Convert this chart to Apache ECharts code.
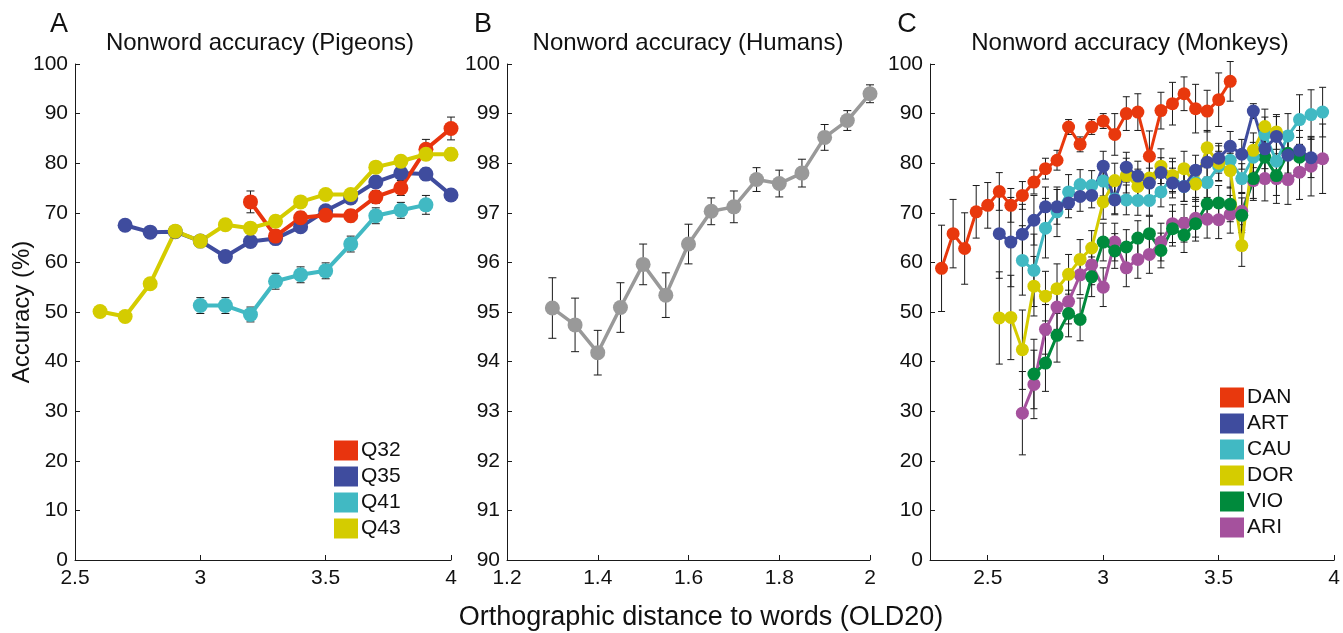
<!DOCTYPE html>
<html><head><meta charset="utf-8">
<script src="https://cdn.jsdelivr.net/npm/echarts@6/dist/echarts.min.js"></script>
<style>html,body{margin:0;padding:0;background:#fff}#c{width:1343px;height:633px}</style>
</head><body><div id="c"></div>
<script>
// ---------- Panel A: pigeons ----------
const Q32_x = [3.2,3.3,3.4,3.5,3.6,3.7,3.8,3.9,4.0];
const Q32_y = [72.2,65.3,69.0,69.5,69.4,73.2,75.0,82.8,87.0];
const Q32_e = [2.2,1.2,1.2,1.2,1.2,1.3,1.5,2.0,2.3];
const Q35_x = [2.7,2.8,2.9,3.0,3.1,3.2,3.3,3.4,3.5,3.6,3.7,3.8,3.9,4.0];
const Q35_y = [67.5,66.1,66.2,64.3,61.2,64.2,64.8,67.2,70.4,73.0,76.2,78.0,77.8,73.6];
const Q35_e = [0.8,0.6,0.6,0.7,0.8,0.8,0.8,0.9,1.0,1.0,1.1,1.1,1.2,1.0];
const Q41_x = [3.0,3.1,3.2,3.3,3.4,3.5,3.6,3.7,3.8,3.9];
const Q41_y = [51.3,51.3,49.5,56.2,57.5,58.3,63.7,69.4,70.5,71.6];
const Q41_e = [1.6,1.6,1.5,1.6,1.6,1.6,1.6,1.6,1.6,1.9];
const Q43_x = [2.6,2.7,2.8,2.9,3.0,3.1,3.2,3.3,3.4,3.5,3.6,3.7,3.8,3.9,4.0];
const Q43_y = [50.1,49.1,55.7,66.3,64.3,67.6,66.9,68.3,72.2,73.7,73.7,79.2,80.4,81.8,81.8];
const Q43_e = [0.6,0.7,0.7,0.8,0.9,0.9,1.0,1.0,1.0,1.0,1.0,1.1,1.1,1.1,1.2];

// ---------- Panel B: humans ----------
const HUM_x = [1.3,1.35,1.4,1.45,1.5,1.55,1.6,1.65,1.7,1.75,1.8,1.85,1.9,1.95,2.0];
const HUM_y = [95.08,94.74,94.18,95.09,95.96,95.34,96.37,97.03,97.12,97.67,97.59,97.80,98.52,98.86,99.40];
const HUM_e = [0.61,0.54,0.45,0.50,0.41,0.45,0.40,0.27,0.32,0.24,0.27,0.28,0.26,0.20,0.18];

// ---------- Panel C: monkeys ----------
const DAN_x = [2.3,2.35,2.4,2.45,2.5,2.55,2.6,2.65,2.7,2.75,2.8,2.85,2.9,2.95,3.0,3.05,3.1,3.15,3.2,3.25,3.3,3.35,3.4,3.45,3.5,3.55];
const DAN_y = [58.8,65.8,62.8,70.2,71.5,74.3,71.5,73.5,76.2,78.9,80.6,87.3,83.8,87.3,88.5,85.8,90.0,90.3,81.4,90.6,92.0,94.0,91.0,90.5,92.8,96.5];
const DAN_e = [8.7,6.9,7.2,5.3,4.6,3.8,3.4,2.8,2.4,2.1,2.0,1.5,1.5,1.5,1.5,4.2,3.4,3.7,5.1,3.7,4.3,3.4,4.9,4.2,5.4,4.0];
const ART_x = [2.55,2.6,2.65,2.7,2.75,2.8,2.85,2.9,2.95,3.0,3.05,3.1,3.15,3.2,3.25,3.3,3.35,3.4,3.45,3.5,3.55,3.6,3.65,3.7,3.75,3.8,3.85,3.9];
const ART_y = [65.8,64.1,65.7,68.5,71.2,71.2,72.0,73.3,73.5,79.4,72.6,79.2,77.4,76.0,78.1,76.0,75.3,78.6,80.2,81.0,83.4,81.8,90.5,82.9,85.4,81.6,82.6,81.1];
const ART_e = [9,9,6,5,4,3.5,3,3,2.5,3,3,3,3,3,3,3,3,3,3,3,3,3,1.5,4,4,4,4,4];
const CAU_x = [2.65,2.7,2.75,2.8,2.85,2.9,2.95,3.0,3.05,3.1,3.15,3.2,3.25,3.3,3.35,3.4,3.45,3.5,3.55,3.6,3.65,3.7,3.75,3.8,3.85,3.9,3.95];
const CAU_y = [60.4,58.4,66.9,70.2,74.2,75.7,75.5,76.4,72.8,72.6,72.5,72.5,74.2,77.3,75.3,76.1,76.1,79.4,80.6,76.9,81.2,85.8,80.4,85.5,88.8,89.8,90.3];
const CAU_e = [7,7.3,6,5,3.5,3,3,3,3,3,3,3,3,3,3,3,3,3,3,3,3,3.5,4,4.5,5,5,5];
const DOR_x = [2.55,2.6,2.65,2.7,2.75,2.8,2.85,2.9,2.95,3.0,3.05,3.1,3.15,3.2,3.25,3.3,3.35,3.4,3.45,3.5,3.55,3.6,3.65,3.7,3.75];
const DOR_y = [48.8,48.9,42.4,55.2,53.2,54.7,57.6,60.6,62.9,72.2,76.5,77.5,75.3,77.0,79.4,77.5,78.9,75.8,83.1,80.0,78.5,63.4,82.6,87.4,86.3];
const DOR_e = [9.3,8.5,8,6,5,5,4,4,3.5,3.5,3.5,3.5,3.5,3.5,3.5,3.5,3.5,3.5,3.5,3.5,3.5,4.2,3.5,3.5,3.5];
const VIO_x = [2.7,2.75,2.8,2.85,2.9,2.95,3.0,3.05,3.1,3.15,3.2,3.25,3.3,3.35,3.4,3.45,3.5,3.55,3.6,3.65,3.7,3.75,3.8,3.85];
const VIO_y = [37.5,39.7,45.3,49.7,48.5,57.1,64.1,62.3,63.1,64.9,65.8,62.4,66.8,65.5,67.8,71.8,72.0,71.7,69.5,76.9,81.2,77.5,82.0,81.2];
const VIO_e = [7,5.7,5.4,4.7,4.3,4,3.8,3.5,3.5,3.5,3.5,3.5,3.5,3.5,3.5,3.5,3.5,3.5,3.5,4,4,4,4,4];
const ARI_x = [2.65,2.7,2.75,2.8,2.85,2.9,2.95,3.0,3.05,3.1,3.15,3.2,3.25,3.3,3.35,3.4,3.45,3.5,3.55,3.6,3.65,3.7,3.75,3.8,3.85,3.9,3.95];
const ARI_y = [29.6,35.4,46.5,51.0,52.1,57.5,59.5,55.0,64.1,58.9,60.6,61.6,64.1,67.8,67.9,68.9,68.7,68.6,69.7,70.3,76.5,76.9,76.9,76.7,78.2,79.4,80.9];
const ARI_e = [8.4,6.9,5,4.5,4.5,4,4,3.9,3.8,3.8,3.8,3.8,3.8,3.8,3.8,3.8,3.8,3.8,3.8,3.8,4,4.5,5,5,5.5,6,7];

// ---------- ticks ----------
const A_xticks = [2.5,3,3.5,4];
const B_xticks = [1.2,1.4,1.6,1.8,2];
const C_xticks = [2.5,3,3.5,4];

const FONT = 'Liberation Sans, Arial, Helvetica, sans-serif';
const COL = {Q32:'#E8340E',Q35:'#3F4C9E',Q41:'#41B9C3',Q43:'#D4CC00',HUM:'#999999',
  DAN:'#E8380D',ART:'#3F4C9E',CAU:'#41B9C3',DOR:'#D5CC00',VIO:'#008A3C',ARI:'#A5519D'};

const chart = echarts.init(document.getElementById('c'), null, {renderer:'canvas'});

function zip(xs, ys){ return xs.map((x,i)=>[x, ys[i]]); }
function lineS(name, gi, xs, ys, color, lw, sz){
  return {name, type:'line', xAxisIndex:gi, yAxisIndex:gi, data:zip(xs,ys),
    symbol:'circle', symbolSize:sz, showSymbol:true, lineStyle:{color, width:lw},
    itemStyle:{color}, z:3, animation:false, silent:true};
}
function errS(gi, xs, ys, es, capW){
  return {type:'custom', xAxisIndex:gi, yAxisIndex:gi, silent:true, z:2, animation:false,
    data: xs.map((x,i)=>[x, ys[i]-es[i], ys[i]+es[i]]),
    encode:{x:0, y:[1,2]},
    renderItem:(params, api)=>{
      const x = api.value(0);
      const lo = api.coord([x, api.value(1)]);
      const hi = api.coord([x, api.value(2)]);
      const w = capW/2, st = {stroke:'#1a1a1a', lineWidth:1};
      return {type:'group', children:[
        {type:'line', shape:{x1:lo[0],y1:lo[1],x2:hi[0],y2:hi[1]}, style:st},
        {type:'line', shape:{x1:lo[0]-w,y1:lo[1],x2:lo[0]+w,y2:lo[1]}, style:st},
        {type:'line', shape:{x1:hi[0]-w,y1:hi[1],x2:hi[0]+w,y2:hi[1]}, style:st}
      ]};
    }};
}
const axisLine = {show:true, lineStyle:{color:'#1a1a1a', width:1}};
const axisTick = {show:true, inside:true, length:5, lineStyle:{color:'#1a1a1a', width:1}};
const lab = {color:'#111', fontSize:21, fontFamily:FONT};

function xAx(gi, min, max, ticks){
  return {type:'value', gridIndex:gi, min, max, axisLine, splitLine:{show:false},
    axisTick:Object.assign({customValues:ticks}, axisTick),
    axisLabel:Object.assign({customValues:ticks, margin:8, formatter:v=>String(+v.toFixed(2))}, lab)};
}
function yAx(gi, min, max, interval){
  return {type:'value', gridIndex:gi, min, max, interval, axisLine, splitLine:{show:false},
    axisTick, axisLabel:Object.assign({margin:7}, lab)};
}

const series = [
  errS(0,Q32_x,Q32_y,Q32_e,8), errS(0,Q35_x,Q35_y,Q35_e,8), errS(0,Q41_x,Q41_y,Q41_e,8), errS(0,Q43_x,Q43_y,Q43_e,8),
  lineS('Q41',0,Q41_x,Q41_y,COL.Q41,4,15),
  lineS('Q35',0,Q35_x,Q35_y,COL.Q35,4,15),
  lineS('Q32',0,Q32_x,Q32_y,COL.Q32,4,15),
  lineS('Q43',0,Q43_x,Q43_y,COL.Q43,4,15),
  errS(1,HUM_x,HUM_y,HUM_e,8),
  lineS('Humans',1,HUM_x,HUM_y,COL.HUM,3.5,15),
  errS(2,DAN_x,DAN_y,DAN_e,7), errS(2,ART_x,ART_y,ART_e,7), errS(2,CAU_x,CAU_y,CAU_e,7),
  errS(2,DOR_x,DOR_y,DOR_e,7), errS(2,VIO_x,VIO_y,VIO_e,7), errS(2,ARI_x,ARI_y,ARI_e,7),
  lineS('ARI',2,ARI_x,ARI_y,COL.ARI,3,13),
  lineS('VIO',2,VIO_x,VIO_y,COL.VIO,3,13),
  lineS('DAN',2,DAN_x,DAN_y,COL.DAN,3,13),
  lineS('CAU',2,CAU_x,CAU_y,COL.CAU,3,13),
  lineS('DOR',2,DOR_x,DOR_y,COL.DOR,3,13),
  lineS('ART',2,ART_x,ART_y,COL.ART,3,13)
];

const legStyle = {orient:'vertical', icon:'rect', itemWidth:24, itemHeight:20, itemGap:5,
  textStyle:{fontSize:21, fontFamily:FONT, color:'#111', padding:[0,0,0,-2]}, selectedMode:false, padding:0};

function txt(t, x, y, size, rot){
  return {type:'text', x, y, rotation:rot||0, silent:true,
    style:{text:t, fontSize:size, fontFamily:FONT, fill:'#111', textAlign:'center', textVerticalAlign:'middle'}};
}

chart.setOption({
  animation:false,
  grid:[
    {left:75, top:64, width:376, height:496},
    {left:507, top:64, width:363, height:496},
    {left:930, top:64, width:409, height:496}
  ],
  xAxis:[xAx(0,2.5,4,A_xticks), xAx(1,1.2,2,B_xticks), xAx(2,2.25,4,C_xticks)],
  yAxis:[yAx(0,0,100,10), yAx(1,90,100,1), yAx(2,0,100,10)],
  legend:[
    Object.assign({left:334, top:440, data:['Q32','Q35','Q41','Q43']}, legStyle),
    Object.assign({left:1220, top:387, data:['DAN','ART','CAU','DOR','VIO','ARI']}, legStyle)
  ],
  graphic:[
    txt('A', 59, 25, 27), txt('B', 483, 25, 27), txt('C', 907, 25, 27),
    txt('Nonword accuracy (Pigeons)', 260, 43, 24),
    txt('Nonword accuracy (Humans)', 688, 43, 24),
    txt('Nonword accuracy (Monkeys)', 1130, 43, 24),
    txt('Accuracy (%)', 22, 312, 24, Math.PI/2),
    txt('Orthographic distance to words (OLD20)', 701, 618, 27)
  ],
  series
});
</script></body></html>
